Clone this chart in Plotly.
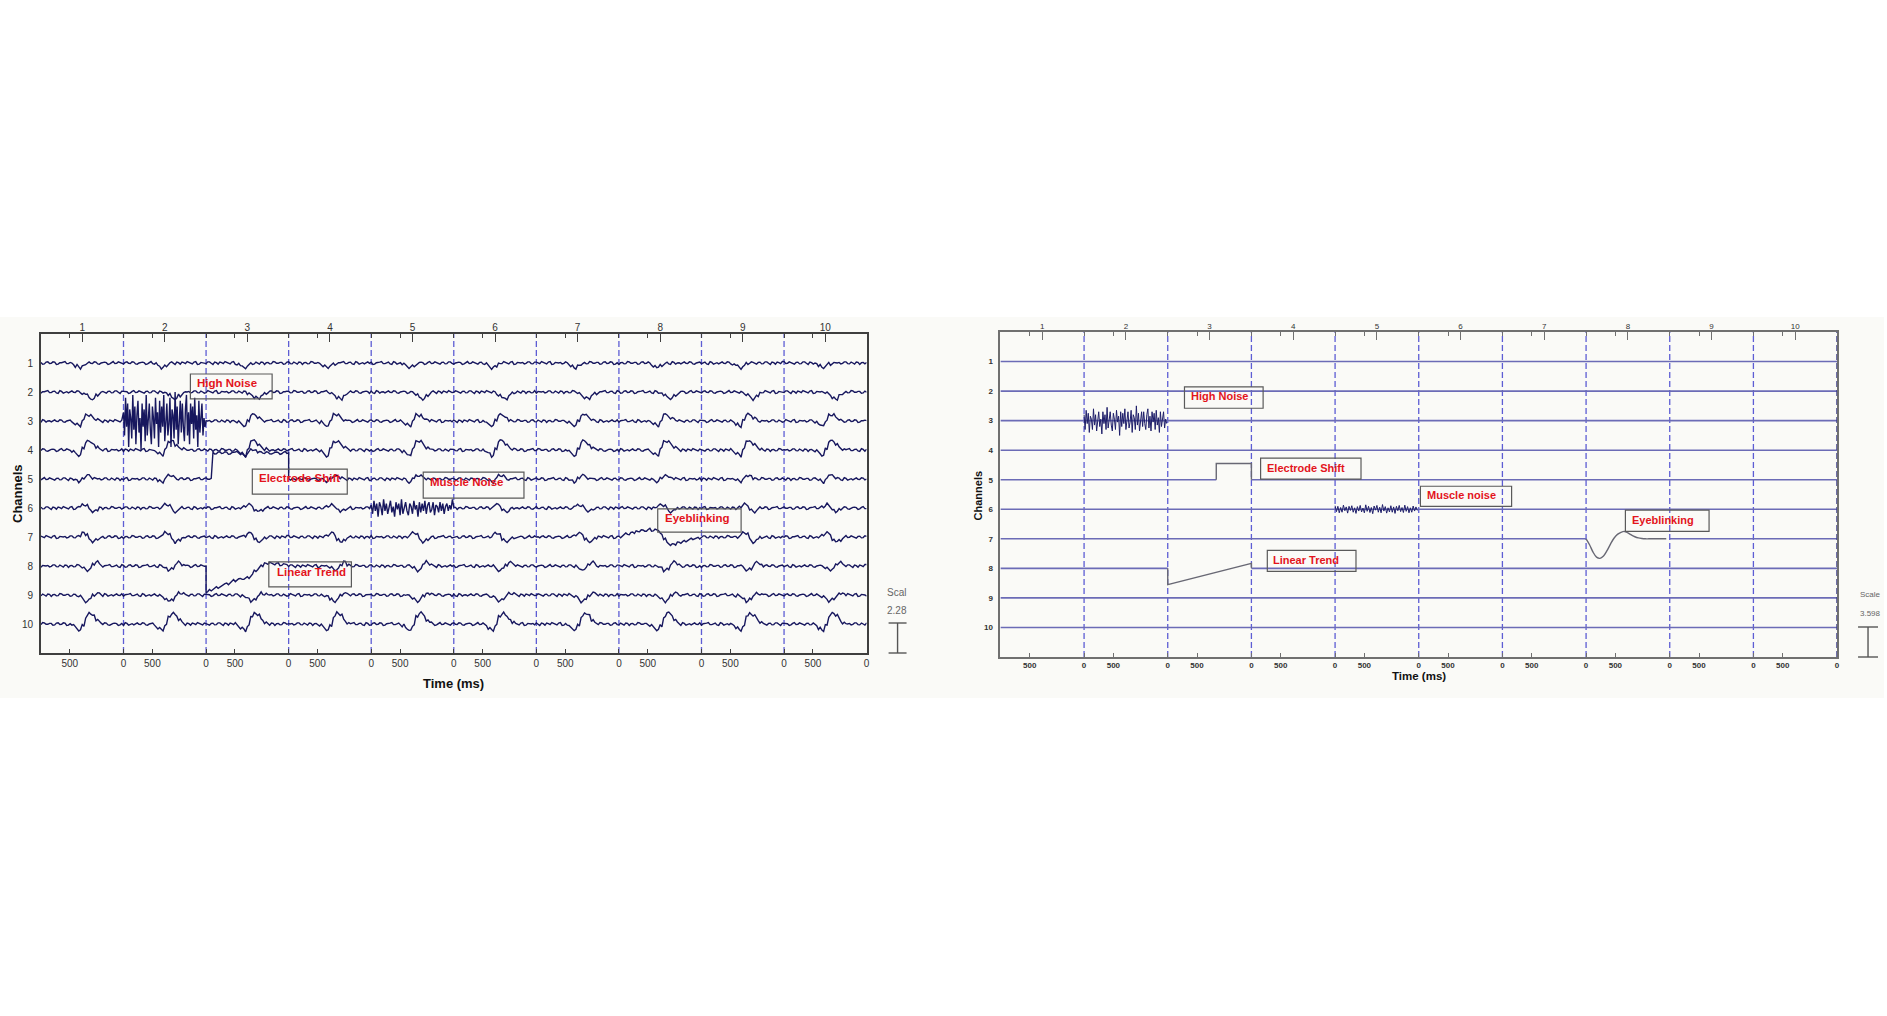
import plotly.graph_objects as go

W, H = 1887, 1016

# ---------------- data ----------------
CHANNELS = [1, 2, 3, 4, 5, 6, 7, 8, 9, 10]
EPOCH_LABELS = ["1", "2", "3", "4", "5", "6", "7", "8", "9", "10"]
EPOCH_CENTERS = [0.5, 1.5, 2.5, 3.5, 4.5, 5.5, 6.5, 7.5, 8.5, 9.5]
EPOCH_BOUNDARIES = [1, 2, 3, 4, 5, 6, 7, 8, 9]
TIME_TICK_POS = [0.35, 1, 1.35, 2, 2.35, 3, 3.35, 4, 4.35, 5,
                 5.35, 6, 6.35, 7, 7.35, 8, 8.35, 9, 9.35, 10]
TIME_TICK_TEXT = ["500", "0"] * 10
SAMPLES_PER_EPOCH = 24

# per-epoch ERP waveform of each channel (channel units, positive = upward)
WAVE_CH1 = [0, 0, 0, 0, 0, 0, 0, 0, 0, -0.03, -0.10, -0.17, -0.10, -0.03, 0, 0, 0, 0, 0, 0, 0, 0, 0, 0]
WAVE_CH2 = [0, 0, 0, 0, 0, 0, 0, 0, 0, 0, 0, 0, -0.04, -0.10, -0.20, -0.24, -0.12, -0.04, 0, 0, 0, 0, 0, 0]
WAVE_CH3 = [0, 0, 0, 0, 0, 0, 0, 0, 0, -0.04, -0.10, -0.18, 0.02, 0.22, 0.20, 0.10, 0.04, 0, 0, 0, 0, 0, 0, 0]
WAVE_CH4 = [0, 0, 0, 0, 0, 0, 0, 0, 0, -0.04, -0.12, -0.20, 0.05, 0.30, 0.30, 0.18, 0.08, 0.03, 0, 0, 0, 0, 0, 0]
WAVE_CH5 = [0, 0, 0, 0, 0, 0, 0, 0, 0, 0, -0.04, -0.11, 0.02, 0.12, 0.10, 0.03, 0, 0, 0, 0, 0, 0, 0, 0]
WAVE_CH6 = [0, 0, 0, 0, 0, 0, 0, 0, 0, 0, 0, 0.04, 0.12, 0.08, -0.06, -0.13, -0.06, 0, 0, 0, 0, 0, 0, 0]
WAVE_CH7 = [0, 0, 0, 0, 0, 0, 0, 0, 0, 0, 0, 0.05, 0.14, 0.10, -0.08, -0.18, -0.10, -0.03, 0, 0, 0, 0, 0, 0]
WAVE_CH8 = [0, 0, 0, 0, 0, 0, 0, 0, 0, 0, 0, 0, -0.06, -0.15, -0.10, 0.05, 0.14, 0.05, 0, 0, 0, 0, 0, 0]
WAVE_CH9 = [0, 0, 0, 0, 0, 0, 0, 0, 0, 0, -0.02, -0.05, -0.12, -0.23, -0.15, -0.02, 0.06, 0.04, 0, 0, 0, 0, 0, 0]
WAVE_CH10 = [0, 0, 0, 0, 0, 0, 0, 0, 0, -0.05, -0.14, -0.22, -0.05, 0.25, 0.38, 0.30, 0.14, 0.04, 0, 0, 0, 0, 0, 0]
WAVES = [WAVE_CH1, WAVE_CH2, WAVE_CH3, WAVE_CH4, WAVE_CH5,
         WAVE_CH6, WAVE_CH7, WAVE_CH8, WAVE_CH9, WAVE_CH10]

# background EEG jitter (estimated texture)
JITTER = [0.02, -0.03, 0.04, -0.01, 0.03, -0.04, 0.01, 0.05, -0.02, 0.03, -0.05, 0.02,
          0.0, -0.03, 0.04, -0.02, 0.03, -0.04, 0.02, 0.01, -0.03, 0.05, -0.01, 0.02,
          -0.04, 0.03, -0.02, 0.04, -0.05, 0.01, 0.03, -0.02, 0.02, -0.03, 0.05, -0.04,
          0.01, 0.02, -0.01, 0.04, -0.03, 0.0, 0.03, -0.05, 0.02, -0.02, 0.04, -0.01]

# ---- artifacts, left (raw data) ----
HIGH_NOISE_CH, HIGH_NOISE_EPOCH = 3, 2
HIGH_NOISE_L = [0.3, -0.5, 0.8, -0.2, 0.6, -0.9, 0.4, 0.1, -0.6, 0.9, -0.3, 0.5, -0.8, 0.2, 0.7, -0.4, 0.1, -1.0, 0.6, -0.2,
                0.4, -0.7, 0.9, -0.5, 0.2, 0.6, -0.3, -0.8, 0.5, 0.1, -0.6, 0.8, -0.1, 0.3, -0.9, 0.7, -0.4, 0.5, -0.2, 0.9,
                -0.7, 0.3, 0.6, -0.5, -0.1, 0.8, -0.9, 0.4, 0.2, -0.6, 1.0, -0.3, 0.5, -0.8, 0.1, 0.7, -0.4, 0.6, -0.2, -0.7,
                0.4, 0.9, -0.5, 0.3, -0.8, 0.6, -0.1, 0.5, -0.6, 0.8, -0.3, 0.2, -0.9, 0.7, -0.4, 0.3, 0.6, -0.5, 0.1, -0.2]
SHIFT_CH, SHIFT_EPOCH = 5, 3
SHIFT_L_ONSET = 0.06
SHIFT_L_LEVEL = 0.9
MUSCLE_CH, MUSCLE_EPOCH = 6, 5
MUSCLE_L = [0.1, -0.2, 0.25, -0.1, 0.15, -0.3, 0.2, 0.05, -0.25, 0.3, -0.1, 0.15, -0.2, 0.1, 0.25, -0.15, 0.05, -0.3, 0.2, -0.05,
            0.15, -0.25, 0.3, -0.2, 0.05, 0.2, -0.1, -0.25, 0.15, 0.05, -0.2, 0.25, -0.05, 0.1, -0.3, 0.2, -0.15, 0.15, -0.1, 0.25,
            -0.2, 0.1, 0.2, -0.15, -0.05, 0.2, -0.25, 0.1, 0.05, -0.15, 0.2, -0.1, 0.15, -0.2, 0.05, 0.15, -0.1, 0.1, -0.05, 0.3]
BLINK_CH, BLINK_EPOCH = 7, 8
EYEBLINK_L = [0, 0.05, 0.10, 0.13, 0.16, 0.18, 0.20, 0.22, 0.23, 0.25, 0.25, 0.22,
              0.12, -0.08, -0.22, -0.26, -0.24, -0.20, -0.17, -0.14, -0.11, -0.08, -0.05, -0.03]
TREND_CH, TREND_EPOCH = 8, 3
TREND_L = [-0.90, -0.85, -0.79, -0.74, -0.69, -0.64, -0.60, -0.56, -0.52, -0.48, -0.45, -0.42,
           -0.40, -0.32, -0.18, -0.08, 0.02, 0.08, 0.08, 0.08, 0.07, 0.06, 0.06, 0.05]

# ---- artifacts, right (simulated) ----
HIGH_NOISE_R = [0.2, -0.3, 0.35, -0.1, 0.25, -0.4, 0.15, 0.05, -0.3, 0.4, -0.15, 0.2, -0.35, 0.1, 0.3, -0.2, 0.05, -0.45, 0.3, -0.1,
                0.2, -0.3, 0.45, -0.25, 0.1, 0.3, -0.15, -0.35, 0.25, 0.05, -0.3, 0.35, -0.05, 0.15, -0.5, 0.3, -0.2, 0.25, -0.1, 0.4,
                -0.3, 0.15, 0.3, -0.25, -0.05, 0.35, -0.4, 0.2, 0.1, -0.3, 0.5, -0.15, 0.25, -0.35, 0.05, 0.3, -0.2, 0.3, -0.1, -0.3,
                0.2, 0.4, -0.25, 0.15, -0.35, 0.3, -0.05, 0.25, -0.3, 0.35, -0.15, 0.1, -0.4, 0.3, -0.2, 0.15, 0.3, -0.25, 0.05, -0.1]
MUSCLE_R = [0.12, -0.08, 0.1, -0.12, 0.06, -0.1, 0.14, -0.05, 0.08, -0.13, 0.1, -0.04, 0.12, -0.1, 0.05, -0.14, 0.09, -0.06, 0.13, -0.09,
            0.04, -0.12, 0.15, -0.07, 0.1, -0.11, 0.06, -0.15, 0.11, -0.03, 0.13, -0.1, 0.07, -0.12, 0.16, -0.06, 0.09, -0.13, 0.05, -0.09,
            0.12, -0.1, 0.08, -0.14, 0.1, -0.05, 0.13, -0.08, 0.06, -0.11, 0.14, -0.07, 0.09, -0.12, 0.05, -0.1, 0.11, -0.06, 0.08, -0.04]
SHIFT_R_X = [2.58, 2.58, 3.0, 3.0]
SHIFT_R_AMP = [0, 0.55, 0.55, 0]
TREND_R_X = [2.0, 2.0, 3.0, 3.0]
TREND_R_AMP = [0, -0.55, 0.17, 0]
EYEBLINK_R = [0, -0.20, -0.45, -0.62, -0.66, -0.58, -0.40, -0.18, 0.02, 0.15, 0.22, 0.25,
              0.20, 0.13, 0.07, 0.03, 0.01, 0, 0, 0, 0, 0, 0, 0]
BASELINE_GAPS_R = {5: (2.58, 3.0), 7: (7.0, 8.0), 8: (2.0, 3.0)}

SCALE_L = "2.28"
SCALE_R = "3.598"

# ---------------- styles ----------------
NAVY = "#17175e"
NOISE_NAVY = "#1f1f6a"
BASE_BLUE = "#6b6bb6"
DASH_BLUE = "#5d5dd4"
GRAY_ART = "#686874"
RED = "#e3141c"
AX_L = "#3f3f3f"
AX_R = "#707070"
FONT = "Liberation Sans, Arial, sans-serif"


def px(x):
    return x / W


def py(y):
    return 1 - y / H


fig = go.Figure()
NJ = len(JITTER)
HALF = 0.5 / SAMPLES_PER_EPOCH

# ---------- left panel traces ----------
for ci, ch in enumerate(CHANNELS):
    wave = WAVES[ci]
    xs, ys = [], []
    for e in range(len(EPOCH_LABELS)):
        ep = e + 1
        if ch == HIGH_NOISE_CH and ep == HIGH_NOISE_EPOCH:
            n = len(HIGH_NOISE_L)
            for k, v in enumerate(HIGH_NOISE_L):
                xs.append(e + k / n)
                ys.append(ch - v)
            continue
        if ch == MUSCLE_CH and ep == MUSCLE_EPOCH:
            n = len(MUSCLE_L)
            for k, v in enumerate(MUSCLE_L):
                xs.append(e + k / n)
                ys.append(ch - v)
            continue
        if ch == TREND_CH and ep == TREND_EPOCH:
            xs.append(e)
            ys.append(ch)
        for i in range(SAMPLES_PER_EPOCH):
            f = i / SAMPLES_PER_EPOCH
            j1 = JITTER[(i + 5 * ci + 13 * e) % NJ]
            j2 = JITTER[(i + 5 * ci + 13 * e + 24) % NJ]
            if ch == BLINK_CH and ep == BLINK_EPOCH:
                a = EYEBLINK_L[i]
            elif ch == TREND_CH and ep == TREND_EPOCH:
                a = TREND_L[i]
            else:
                a = wave[i]
            if ch == SHIFT_CH and ep == SHIFT_EPOCH:
                if f >= SHIFT_L_ONSET:
                    if xs[-1] < e + SHIFT_L_ONSET:
                        xs += [e + SHIFT_L_ONSET, e + SHIFT_L_ONSET]
                        ys += [ch - j1, ch - SHIFT_L_LEVEL - j1]
                    a += SHIFT_L_LEVEL
            xs += [e + f, e + f + HALF]
            ys += [ch - a - j1, ch - a - j2]
        if ch == SHIFT_CH and ep == SHIFT_EPOCH:
            xs.append(e + 1)
            ys.append(ch - SHIFT_L_LEVEL)
    xs.append(len(EPOCH_LABELS))
    ys.append(ch - JITTER[(3 * ci) % NJ])
    fig.add_trace(go.Scatter(x=xs, y=ys, mode="lines", xaxis="x", yaxis="y",
                             line=dict(color=NAVY, width=1.4), hoverinfo="skip",
                             showlegend=False))

# ---------- right panel traces ----------
for ch in CHANNELS:
    if ch in BASELINE_GAPS_R:
        g0, g1 = BASELINE_GAPS_R[ch]
        xs = [0, g0, None, g1, 10]
        ys = [ch, ch, None, ch, ch]
    else:
        xs = [0, 10]
        ys = [ch, ch]
    fig.add_trace(go.Scatter(x=xs, y=ys, mode="lines", xaxis="x2", yaxis="y2",
                             line=dict(color=BASE_BLUE, width=1.6), hoverinfo="skip",
                             showlegend=False))

n = len(HIGH_NOISE_R)
fig.add_trace(go.Scatter(x=[HIGH_NOISE_EPOCH - 1 + k / n for k in range(n)],
                         y=[HIGH_NOISE_CH - v for v in HIGH_NOISE_R], mode="lines",
                         xaxis="x2", yaxis="y2", line=dict(color=NOISE_NAVY, width=1.0),
                         hoverinfo="skip", showlegend=False))
n = len(MUSCLE_R)
fig.add_trace(go.Scatter(x=[MUSCLE_EPOCH - 1 + k / n for k in range(n)],
                         y=[MUSCLE_CH - v for v in MUSCLE_R], mode="lines",
                         xaxis="x2", yaxis="y2", line=dict(color=NOISE_NAVY, width=1.0),
                         hoverinfo="skip", showlegend=False))
fig.add_trace(go.Scatter(x=SHIFT_R_X, y=[SHIFT_CH - a for a in SHIFT_R_AMP], mode="lines",
                         xaxis="x2", yaxis="y2", line=dict(color=GRAY_ART, width=1.4),
                         hoverinfo="skip", showlegend=False))
fig.add_trace(go.Scatter(x=TREND_R_X, y=[TREND_CH - a for a in TREND_R_AMP], mode="lines",
                         xaxis="x2", yaxis="y2", line=dict(color=GRAY_ART, width=1.4),
                         hoverinfo="skip", showlegend=False))
fig.add_trace(go.Scatter(x=[BLINK_EPOCH - 1 + i / SAMPLES_PER_EPOCH for i in range(len(EYEBLINK_R))],
                         y=[BLINK_CH - a for a in EYEBLINK_R], mode="lines", line_shape="spline",
                         xaxis="x2", yaxis="y2", line=dict(color=GRAY_ART, width=1.4),
                         hoverinfo="skip", showlegend=False))

# invisible anchors so that the top (epoch-number) axes are drawn
for xa, ya in (("x3", "y"), ("x4", "y2")):
    fig.add_trace(go.Scatter(x=[EPOCH_CENTERS[0]], y=[CHANNELS[0]], xaxis=xa, yaxis=ya, mode="markers",
                             marker=dict(opacity=0, size=1), hoverinfo="skip", showlegend=False))

# ---------- shapes ----------
shapes = [dict(type="rect", xref="paper", yref="paper", x0=0, x1=1, y0=py(698), y1=py(317),
               fillcolor="#fafaf7", line=dict(width=0), layer="below")]
for xr, yr in (("x", "y domain"), ("x2", "y2 domain")):
    for b in EPOCH_BOUNDARIES:
        shapes.append(dict(type="line", xref=xr, yref=yr, x0=b, x1=b, y0=0, y1=1,
                           line=dict(color=DASH_BLUE, width=1.3, dash="6px,3px"), layer="below"))
shapes.append(dict(type="line", xref="x2", yref="y2 domain", x0=10, x1=10, y0=0, y1=1,
                   line=dict(color="#3a3a8a", width=1.6, dash="6px,3px")))

annotations = []


def label_box(xr, yr, text, bx0, bx1, by0, by1, tx, ty, size):
    shapes.append(dict(type="rect", xref=xr, yref=yr, x0=bx0, x1=bx1, y0=by0, y1=by1,
                       line=dict(color="#5a5a5a", width=1.2), fillcolor="rgba(0,0,0,0)"))
    annotations.append(dict(xref=xr, yref=yr, x=tx, y=ty, text="<b>%s</b>" % text,
                            showarrow=False, xanchor="left", yanchor="middle",
                            font=dict(color=RED, size=size, family=FONT)))


label_box("x", "y", "High Noise", 1.81, 2.80, 1.38, 2.24, 1.86, 1.70, 11.5)
label_box("x", "y", "Electrode Shift", 2.56, 3.71, 4.66, 5.52, 2.62, 4.98, 11.5)
label_box("x", "y", "Muscle Noise", 4.63, 5.85, 4.76, 5.66, 4.69, 5.12, 11.5)
label_box("x", "y", "Eyeblinking", 7.47, 8.48, 6.03, 6.83, 7.53, 6.33, 11.5)
label_box("x", "y", "Linear Trend", 2.76, 3.76, 7.86, 8.72, 2.83, 8.22, 11.5)

label_box("x2", "y2", "High Noise", 2.20, 3.14, 1.86, 2.58, 2.25, 2.18, 11)
label_box("x2", "y2", "Electrode Shift", 3.11, 4.31, 4.27, 4.98, 3.16, 4.60, 11)
label_box("x2", "y2", "Muscle noise", 5.02, 6.11, 5.22, 5.90, 5.07, 5.52, 11)
label_box("x2", "y2", "Eyeblinking", 7.47, 8.47, 6.03, 6.75, 7.52, 6.36, 11)
label_box("x2", "y2", "Linear Trend", 3.19, 4.25, 7.39, 8.10, 3.24, 7.72, 11)


def text_at(x, y, text, size, color, anchor="center", angle=0):
    return dict(xref="paper", yref="paper", x=px(x), y=py(y), text=text, textangle=angle,
                xanchor=anchor, yanchor="middle", showarrow=False,
                font=dict(size=size, color=color, family=FONT))


# axis titles and scale text
annotations += [
    text_at(17, 493, "<b>Channels</b>", 13, "#111", angle=-90),
    text_at(454, 683, "<b>Time (ms)</b>", 13, "#111"),
    text_at(980, 495, "<b>Channels</b>", 11, "#111", angle=-90),
    text_at(1421, 676, "<b>Time (ms)</b>", 11.5, "#111"),
    text_at(886, 592, "Scal", 10, "#666", anchor="left"),
    text_at(886, 610, SCALE_L, 10, "#666", anchor="left"),
    text_at(1861, 594, "Scale", 8, "#666", anchor="left"),
    text_at(1861, 613, SCALE_R, 8, "#666", anchor="left"),
]

# scale bars
for xc, y0, y1, hw in ((899, 623, 653, 9), (1871, 627, 657, 10)):
    shapes += [
        dict(type="line", xref="paper", yref="paper", x0=px(xc), x1=px(xc), y0=py(y0), y1=py(y1),
             line=dict(color="#555", width=1.4)),
        dict(type="line", xref="paper", yref="paper", x0=px(xc - hw), x1=px(xc + hw), y0=py(y0), y1=py(y0),
             line=dict(color="#555", width=1.4)),
        dict(type="line", xref="paper", yref="paper", x0=px(xc - hw), x1=px(xc + hw), y0=py(y1), y1=py(y1),
             line=dict(color="#555", width=1.4)),
    ]


def bottom_axis(domain, anchor, color, size, bold):
    tt = ["<b>%s</b>" % t for t in TIME_TICK_TEXT] if bold else TIME_TICK_TEXT
    return dict(domain=domain, anchor=anchor, range=[0, 10], tickvals=TIME_TICK_POS, ticktext=tt,
                ticks="inside", ticklen=4, tickcolor=color, tickwidth=1, showline=True,
                linecolor=color, linewidth=1.6, mirror="ticks", showgrid=False, zeroline=False,
                tickfont=dict(size=size, color="#333", family=FONT), fixedrange=True)


def top_axis(over, anchor, color, size):
    return dict(overlaying=over, anchor=anchor, side="top", range=[0, 10], tickvals=EPOCH_CENTERS,
                ticktext=EPOCH_LABELS, ticks="inside", ticklen=8, tickcolor=color, tickwidth=1,
                showline=False, showgrid=False, zeroline=False,
                tickfont=dict(size=size, color="#333", family=FONT))


def y_axis(domain, anchor, color, size, bold):
    tt = ["<b>%d</b>" % c for c in CHANNELS] if bold else [str(c) for c in CHANNELS]
    return dict(domain=domain, anchor=anchor, range=[11, 0], tickvals=CHANNELS, ticktext=tt,
                ticks="", showline=True, linecolor=color, linewidth=1.6, mirror=True,
                showgrid=False, zeroline=False, ticklabelstandoff=4,
                tickfont=dict(size=size, color="#333", family=FONT))


fig.update_layout(
    width=W, height=H, autosize=False,
    margin=dict(l=0, r=0, t=0, b=0),
    paper_bgcolor="white", plot_bgcolor="rgba(0,0,0,0)",
    xaxis=bottom_axis([px(41), px(868)], "y", AX_L, 10, False),
    xaxis3=top_axis("x", "y", AX_L, 10),
    yaxis=y_axis([py(653), py(334)], "x", AX_L, 10, False),
    xaxis2=bottom_axis([px(1002), px(1840)], "y2", AX_R, 8, True),
    xaxis4=top_axis("x2", "y2", AX_R, 8),
    yaxis2=y_axis([py(657), py(332)], "x2", AX_R, 8, True),
    shapes=shapes, annotations=annotations,
    font=dict(family=FONT),
)

fig.write_html("out.html", config={"displayModeBar": False},
               post_script="document.body.style.margin='0';document.body.style.overflow='hidden';")
